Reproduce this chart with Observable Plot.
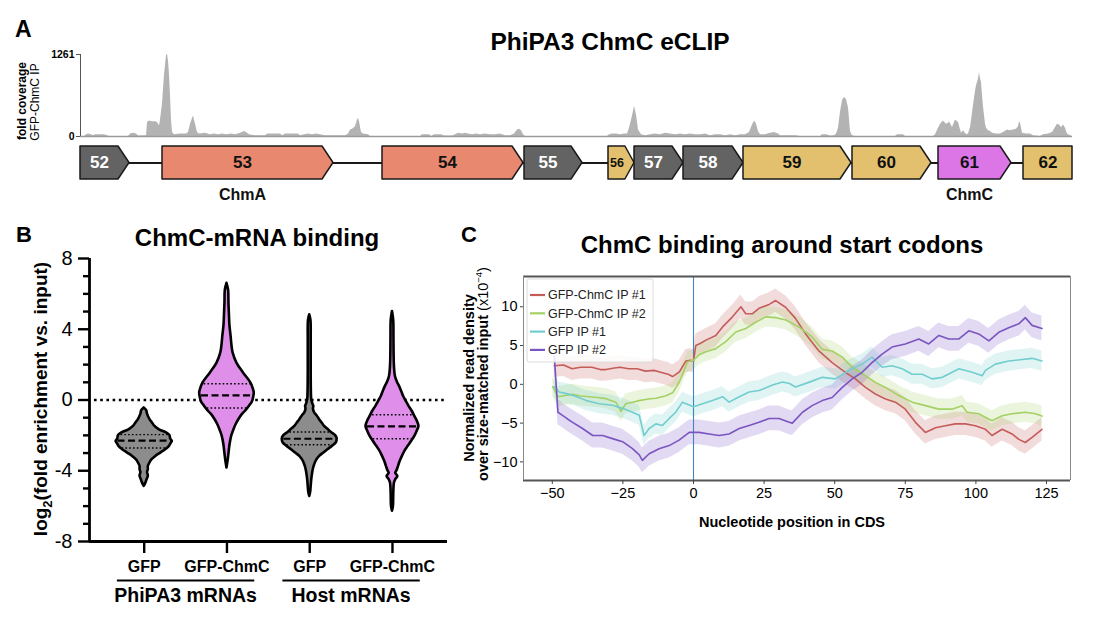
<!DOCTYPE html>
<html><head><meta charset="utf-8">
<script src="https://cdn.jsdelivr.net/npm/d3@7"></script>
<script src="https://cdn.jsdelivr.net/npm/@observablehq/plot@0.6"></script>
<style>
body{margin:0;background:#fff;}
#fig{position:relative;width:1102px;height:626px;overflow:hidden;background:#fff;}
</style></head><body><div id="fig"></div>
<script>
const FONT = '"Liberation Sans", Arial, Helvetica, sans-serif';

// ---------------- Panel A: coverage ----------------
const covPos = [0,4,6,8,11,13,15,20,24,27,29,48,50,53,56,58,66,67,69,72,75,77,79,80,82,84,86,87,88,89,90,91,92,94,100,106,108,110,112,113,115,117,119,125,130,134,138,142,146,151,155,160,164,166,169,175,185,187,200,202,205,218,220,224,228,232,236,240,245,265,268,270,272,275,277,278,279,281,283,288,290,340,342,349,351,354,361,364,372,375,378,382,385,388,392,396,400,405,410,415,420,425,430,434,437,439,441,443,445,527,529,532,536,540,544,547,549,552,554,556,558,561,565,570,575,580,585,590,595,600,605,610,615,620,625,630,635,640,645,650,655,660,665,669,672,674,676,678,680,685,690,694,698,700,710,715,720,740,742,746,750,754,756,758,760,762,764,766,768,770,772,775,815,817,823,825,853,855,858,860,863,866,868,869,872,875,878,880,881,883,886,888,890,892,893,895,896,898,899,900,901,902,903,905,906,908,910,912,916,920,923,927,930,933,936,938,939,940,942,946,950,953,960,963,968,972,975,977,979,981,983,985,987,990,992];
const covFold = [0,0,25,38,25,13,25,25,25,13,0,0,38,50,38,6,13,214,240,227,227,214,164,252,504,946,1248,1261,1160,946,630,252,63,25,38,38,63,189,277,315,189,63,38,50,25,38,25,38,25,38,25,50,76,63,25,13,13,38,38,13,38,38,13,25,38,25,38,25,13,13,38,101,113,151,252,277,227,63,38,25,0,0,25,25,0,25,25,6,6,25,50,38,50,38,25,38,25,38,25,25,38,13,13,38,101,113,88,25,0,0,25,38,38,25,38,38,126,315,467,328,101,25,13,25,38,25,50,38,25,38,25,38,25,25,38,13,25,25,13,25,13,25,25,63,177,240,189,76,25,25,50,63,38,13,13,13,0,0,25,25,6,13,38,126,378,555,605,567,441,76,13,0,0,25,25,0,0,25,126,189,240,189,202,227,139,252,214,101,50,88,25,38,139,353,479,694,782,883,984,883,832,631,454,189,126,88,76,50,38,38,63,101,88,101,113,151,227,202,50,38,38,13,0,25,38,63,139,189,177,139,177,126,38,13,0];
const covTicks = [0, 1261];

// genes
const geneNames = ["52","53","54","55","56","57","58","59","60","61","62"];
const geneStart = [0,82,302,444,528,554,603,663,772,858,943];
const geneEnd   = [49,253,443,502,554,603,663,771,851,931,992];
const geneClass = ["core","chmA","chmA","core","acc","core","core","acc","acc","chmC","acc"];
const geneTruncated = [false,false,false,false,false,false,false,false,false,false,true];
const geneAnnotGene = ["53","61"];
const geneAnnotText = ["ChmA","ChmC"];

// ---------------- Panel B: violins ----------------
const bCategories = ["GFP","GFP-ChmC","GFP","GFP-ChmC"];
const bGroups = ["PhiPA3 mRNAs","Host mRNAs"];
const bMajorTicks = [-8,-4,0,4,8];
const bMinorTicks = [-7,-6,-5,-3,-2,-1,1,2,3,5,6,7];
const v1Y = [-0.45,-0.6,-0.8,-1.11,-1.3,-1.49,-1.7,-1.86,-2.0,-2.2,-2.34,-2.5,-2.65,-2.81,-3.0,-3.19,-3.4,-3.56,-3.75,-3.94,-4.1,-4.3,-4.5,-4.7,-4.88];
const v1W = [0,0.03,0.04,0.07,0.1,0.13,0.19,0.27,0.31,0.32,0.34,0.32,0.3,0.26,0.2,0.14,0.09,0.07,0.05,0.05,0.04,0.05,0.035,0.02,0];
const v2Y = [6.6,6.2,5.5,4.8,4.2,3.6,3.1,2.65,2.09,1.53,0.96,0.6,0.4,0.1,-0.08,-0.3,-0.55,-0.8,-1.1,-1.4,-1.68,-2.0,-2.24,-2.6,-3.0,-3.4,-3.84];
const v2W = [0,0.02,0.024,0.03,0.036,0.05,0.06,0.075,0.12,0.2,0.29,0.32,0.33,0.32,0.31,0.28,0.24,0.19,0.145,0.11,0.085,0.06,0.048,0.035,0.025,0.015,0];
const v3Y = [4.82,4.5,3.5,2.5,1.5,0.5,0,-0.25,-0.36,-0.5,-0.73,-0.9,-1.11,-1.3,-1.49,-1.7,-1.86,-2.0,-2.15,-2.3,-2.43,-2.6,-2.81,-3.0,-3.19,-3.4,-3.66,-3.9,-4.12,-4.5,-4.88,-5.2,-5.45];
const v3W = [0,0.015,0.018,0.018,0.018,0.02,0.025,0.04,0.05,0.045,0.06,0.09,0.12,0.15,0.18,0.23,0.27,0.31,0.33,0.33,0.32,0.28,0.22,0.17,0.12,0.085,0.06,0.045,0.036,0.025,0.018,0.012,0];
const v4Y = [5.0,4.5,3.5,2.5,1.8,1.33,1.0,0.77,0.5,0.2,-0.1,-0.36,-0.65,-0.93,-1.2,-1.49,-1.75,-2.06,-2.35,-2.62,-2.9,-3.19,-3.45,-3.75,-4.0,-4.15,-4.32,-4.5,-4.69,-5.0,-5.5,-6.0,-6.29];
const v4W = [0,0.015,0.018,0.02,0.025,0.036,0.06,0.085,0.11,0.135,0.17,0.2,0.24,0.27,0.3,0.32,0.3,0.27,0.23,0.19,0.15,0.12,0.095,0.073,0.055,0.04,0.065,0.04,0.024,0.018,0.015,0.012,0];
const bQ1 = [-2.71,-0.45,-2.53,-2.19];
const bMedian = [-2.3,0.26,-2.19,-1.49];
const bQ3 = [-1.96,0.92,-1.81,-0.83];

// ---------------- Panel C: metagene ----------------
const cSeries = ["GFP-ChmC IP #1","GFP-ChmC IP #2","GFP IP #1","GFP IP #2"];
const cBand = [1.5,1.3,1.3,1.6];
const redX = [-49.3,-46,-43,-40,-36,-33,-31,-28,-26,-23,-20,-17,-14,-12,-9,-7.4,-5,-2.7,-1,0,0.8,2.5,4.4,7.9,10.3,13.8,16.8,18.5,20.9,23.2,26.8,29.1,32.7,36.1,39.7,44.4,49.1,53.8,57.3,60.9,64.4,68,71.5,75,78.6,82.1,85.7,89.2,92.7,96.3,99.8,103.4,105.7,109.3,112.8,115.2,117.5,119.9,123.4];
const redY = [2.4,2.5,2.0,2.2,2.2,1.9,1.9,2.1,2.2,2.0,2.0,1.7,1.8,1.6,1.3,1.0,1.6,3.0,3.1,3.0,5.0,5.3,5.7,6.3,7.4,8.7,10.0,9.1,9.1,9.8,10.3,10.8,9.9,8.5,6.5,4.3,2.8,1.55,0.7,-0.4,-1.25,-1.9,-2.3,-3.2,-4.9,-6.2,-5.6,-5.35,-5.1,-5.1,-5.35,-5.8,-6.6,-5.8,-6.4,-7.1,-7.5,-6.85,-5.8];
const greenX = [-49.9,-48,-45,-42.8,-40,-36.9,-34,-31,-27.5,-25.7,-24,-21.5,-19.2,-16,-13.3,-10,-7.4,-5,-2.1,0,2,4.4,7.9,11.4,15,18.5,22,25.6,29.1,32.7,37.3,42,45.6,49.1,52.7,56.2,60.9,64.4,68,72.7,77.4,82.1,86.9,91.5,95.1,96.9,101,105.7,109.3,112.8,117.5,121.1,123.4];
const greenY = [-0.3,-1.6,-1.4,-1.3,-1.5,-1.6,-1.7,-1.85,-2.3,-3.5,-2.5,-2.3,-2.1,-1.9,-1.8,-1.5,-1.1,0.3,2.9,3.1,3.8,4.2,4.6,5.5,6.75,7.2,8.0,8.7,8.6,8.3,7.4,6.1,4.5,4.3,3.5,2.2,1.1,0.25,-0.4,-1.45,-2.3,-2.75,-3.2,-3.2,-2.75,-3.6,-3.8,-4.7,-4.05,-3.8,-3.6,-3.8,-4.1];
const cyanX = [-49.3,-47.6,-45,-42.8,-40,-38,-35.5,-33.4,-31,-28.7,-25.1,-21.6,-19.2,-17.5,-15.7,-13.3,-11,-8.6,-6.3,-3.9,-2,0,3.2,6.7,10.3,12.6,16.2,19.7,23.2,28,31.5,34,36.1,40.8,45.6,50.3,55,59.7,63.2,66.8,70.3,73.9,77.4,81,84.5,88.1,91.6,94,98.7,102.2,103.4,106.9,111.6,116.4,119.9,123.4];
const cyanY = [-0.3,-1.0,-1.2,-1.4,-1.8,-2.1,-2.3,-2.5,-2.6,-2.7,-3.1,-3.6,-4.0,-6.6,-5.7,-5.1,-5.3,-4.4,-3.6,-2.3,-2.6,-2.9,-2.5,-2.1,-1.6,-2.3,-1.6,-1.0,-0.8,-0.1,0.3,0.1,-0.35,0.25,0.9,0.7,1.8,2.6,3.5,2.2,2.4,2.0,1.3,1.3,0.7,0.9,1.55,2.0,1.55,1.1,1.8,2.6,3.0,3.2,3.35,3.0];
const purpleX = [-49.3,-48,-46.4,-44.5,-42.8,-39.3,-35.7,-32.2,-28.7,-25.1,-21.6,-19.2,-18.1,-15.7,-12.2,-8.6,-5.1,-1.5,2,5.5,9.1,12.6,16.2,19.7,23.2,26.8,30.3,33.9,35,38.6,42,45.6,49.1,52.7,56.2,59.7,63.2,66.8,70.3,75,79.8,83.3,86.9,90.4,94,97.5,101,104.6,108.1,111.6,115.2,117.5,119.9,123.4];
const purpleY = [3.7,-3.6,-4.0,-4.5,-4.9,-5.7,-6.6,-6.6,-7.0,-7.4,-8.3,-9.1,-9.8,-8.95,-8.3,-7.9,-7.2,-6.2,-6.2,-6.4,-6.6,-6.4,-5.7,-5.3,-4.9,-4.4,-4.4,-4.9,-5.0,-3.6,-2.75,-2.1,-1.7,-0.4,0.7,1.55,2.8,3.9,4.8,5.2,5.85,5.2,6.3,5.85,5.85,6.9,6.5,5.6,6.7,7.3,7.8,8.6,7.6,7.2];
const cXTicks = [-50,-25,0,25,50,75,100,125];
const cYTicks = [-10,-5,0,5,10];

// ---------------- styles ----------------
const GENE_COLORS = {core:"#636363", chmA:"#e8896f", acc:"#e2c06e", chmC:"#dc76e6"};
const VIOLIN_COLORS = ["#8c8c8c","#df8fe9"];
const C_COLORS = ["#c45d59","#a4d064","#72cdcf","#7a55c2"];

const fig = document.getElementById("fig");
function place(el, left, top){ el.style.position="absolute"; el.style.left=left+"px"; el.style.top=top+"px"; fig.appendChild(el); return el; }

// ---- A: coverage
const covRows = covPos.map((p,i)=>({pos:p, fold:covFold[i]}));
const xDomA = [0, 992];
const covPlot = Plot.plot({
  width:1102, height:100, marginLeft:80, marginRight:30, marginTop:9, marginBottom:9,
  x:{domain:xDomA, axis:null}, y:{domain:[0,1261], axis:null},
  style:{fontFamily:FONT, background:"transparent", overflow:"visible"},
  marks:[
    Plot.areaY(covRows, {x:"pos", y:"fold", fill:"#b3b3b3", curve:"linear"}),
    Plot.ruleY([0], {stroke:"#9a9a9a", strokeWidth:1.5}),
    Plot.axisY({ticks:covTicks, tickSize:4, tickFormat:()=>"", label:null, stroke:"#555"}),
    Plot.ruleX([xDomA[0]], {y1:0, y2:1261, stroke:"#555", strokeWidth:1}),
    Plot.text(covTicks, {x:xDomA[0], y:d=>d, text:d=>String(d), dx:-6, textAnchor:"end", fontSize:10.5, fontWeight:"bold", fill:"#000"})
  ]
});
place(covPlot, 0, 45);

// ---- A: genes
const tipLen = (s,e) => Math.min(11, (e-s)*0.35);
const geneRows = [];
geneNames.forEach((g,i)=>{
  const s=geneStart[i], e=geneEnd[i];
  if (geneTruncated[i]) {
    geneRows.push({gene:g, cls:geneClass[i], pos:s, lo:-1, hi:1});
    geneRows.push({gene:g, cls:geneClass[i], pos:e, lo:-1, hi:1});
  } else {
    const t = e - tipLen(s,e);
    geneRows.push({gene:g, cls:geneClass[i], pos:s, lo:-1, hi:1});
    geneRows.push({gene:g, cls:geneClass[i], pos:t, lo:-1, hi:1});
    geneRows.push({gene:g, cls:geneClass[i], pos:e, lo:0, hi:0});
  }
});
const geneInfo = geneNames.map((g,i)=>({gene:g, cls:geneClass[i],
  mid: geneTruncated[i] ? (geneStart[i]+geneEnd[i])/2 : (geneStart[i] + geneEnd[i] - tipLen(geneStart[i],geneEnd[i]))/2,
  narrow: (geneEnd[i]-geneStart[i]) < 35}));
const annots = geneAnnotGene.map((g,i)=>({gene:g, text:geneAnnotText[i], mid:geneInfo.find(d=>d.gene===g).mid}));
const genePlot = Plot.plot({
  width:1102, height:70, marginLeft:80, marginRight:30, marginTop:6, marginBottom:31,
  x:{domain:xDomA, axis:null}, y:{domain:[-1,1], axis:null},
  color:{domain:Object.keys(GENE_COLORS), range:Object.values(GENE_COLORS)},
  style:{fontFamily:FONT, background:"transparent", overflow:"visible"},
  marks:[
    Plot.ruleY([0], {stroke:"#1a1a1a", strokeWidth:2}),
    Plot.areaY(geneRows, {x:"pos", y1:"lo", y2:"hi", z:"gene", fill:"cls", stroke:"#1a1a1a", strokeWidth:1.5, curve:"linear"}),
    Plot.text(geneInfo.filter(d=>!d.narrow), {x:"mid", y:0, text:"gene", fontSize:17, fontWeight:"bold", fill:d=>d.cls==="core"?"#fff":"#111"}),
    Plot.text(geneInfo.filter(d=>d.narrow), {x:"mid", y:0, text:"gene", fontSize:12.5, fontWeight:"bold", fill:"#111"}),
    Plot.text(annots, {x:"mid", y:-1, text:"text", dy:15, fontSize:16, fontWeight:"bold", fill:"#111"})
  ]
});
place(genePlot, 0, 140);

// ---- B: violins
const bProfiles = [[v1Y,v1W],[v2Y,v2W],[v3Y,v3W],[v4Y,v4W]];
const bRows = [];
bProfiles.forEach(([ys,ws],i)=> ys.forEach((y,j)=> bRows.push({group:i, cat:i+1, kind:bCategories[i], y, hw:ws[j]})));
function hwAt(ys, ws, q){
  for (let j=0;j<ys.length-1;j++){
    const a=ys[j], b=ys[j+1];
    if ((q<=a && q>=b)){ const t=(a-q)/(a-b); return ws[j]+(ws[j+1]-ws[j])*t; }
  }
  return 0;
}
const qRows = [];
bProfiles.forEach(([ys,ws],i)=>{
  [["q",bQ1[i]],["m",bMedian[i]],["q",bQ3[i]]].forEach(([k,v])=>{
    const h = hwAt(ys,ws,v) - 0.012;
    qRows.push({kind:k, y:v, x1:i+1-h, x2:i+1+h});
  });
});
const xDomB = [0.339, 4.665];
const bPlot = Plot.plot({
  width:460, height:370, marginLeft:89, marginRight:13, marginTop:8, marginBottom:79,
  x:{domain:xDomB, axis:null}, y:{domain:[-8,8], axis:null},
  color:{domain:["GFP","GFP-ChmC"], range:VIOLIN_COLORS},
  style:{fontFamily:FONT, background:"transparent", overflow:"visible"},
  marks:[
    Plot.ruleY([0], {stroke:"#000", strokeWidth:2.6, strokeDasharray:"2.6,3.6", insetLeft:5}),
    Plot.areaX(bRows, {y:"y", x1:d=>d.cat-d.hw, x2:d=>d.cat+d.hw, z:"group", fill:"kind", stroke:"#000", strokeWidth:2.6, strokeLinejoin:"round", curve:"catmull-rom"}),
    Plot.link(qRows.filter(d=>d.kind==="q"), {x1:"x1", x2:"x2", y1:"y", y2:"y", stroke:"#000", strokeWidth:1.4, strokeDasharray:"1.6,2.2"}),
    Plot.link(qRows.filter(d=>d.kind==="m"), {x1:"x1", x2:"x2", y1:"y", y2:"y", stroke:"#000", strokeWidth:2.2, strokeDasharray:"7,3.5"}),
    Plot.axisY({ticks:bMinorTicks, tickSize:6, tickFormat:()=>"", label:null, stroke:"#000", strokeWidth:2.4}),
    Plot.axisY({ticks:bMajorTicks, tickSize:11, tickFormat:()=>"", label:null, stroke:"#000", strokeWidth:2.4}),
    Plot.text(bMajorTicks, {x:xDomB[0], y:d=>d, text:d=>String(d), dx:-17, textAnchor:"end", fontSize:20, fill:"#000"}),
    Plot.ruleX([xDomB[0]], {y1:-8, y2:8, stroke:"#000", strokeWidth:2.8}),
    Plot.ruleY([-8], {x1:xDomB[0], x2:xDomB[1], stroke:"#000", strokeWidth:2.8}),
    Plot.axisX({ticks:[1,2,3,4], tickSize:12, tickFormat:()=>"", label:null, stroke:"#000", strokeWidth:2.4}),
    Plot.text(bCategories, {x:(d,i)=>i+1, y:-8, text:d=>d, dy:30, lineAnchor:"bottom", fontSize:16, fontWeight:"bold", fill:"#000"}),
    Plot.link(bGroups, {x1:(d,i)=>2*i+1-0.33, x2:(d,i)=>2*i+2+0.33, y1:-8, y2:-8, dy:39, stroke:"#000", strokeWidth:2}),
    Plot.text(bGroups, {x:(d,i)=>2*i+1.5, y:-8, text:d=>d, dy:60.5, lineAnchor:"bottom", fontSize:19.5, fontWeight:"bold", fill:"#000"})
  ]
});
place(bPlot, 0, 250);

// ---- C: metagene
const cXs = [redX, greenX, cyanX, purpleX];
const cYs = [redY, greenY, cyanY, purpleY];
const cRows = [];
cSeries.forEach((s,i)=> cXs[i].forEach((x,j)=> cRows.push({series:s, x, y:cYs[i][j], e:cBand[i]})));
const xDomC = [-60.2, 133.5], yDomC = [-12.4, 13.9];
const cPlot = Plot.plot({
  width:620, height:270, marginLeft:63, marginRight:10, marginTop:6, marginBottom:60,
  x:{domain:xDomC, label:null}, y:{domain:yDomC, label:null},
  color:{domain:cSeries, range:C_COLORS},
  style:{fontFamily:FONT, background:"transparent", overflow:"visible"},
  marks:[
    Plot.areaY(cRows, {x:"x", y1:d=>d.y-d.e, y2:d=>d.y+d.e, z:"series", fill:"series", fillOpacity:0.22}),
    Plot.ruleX([0], {stroke:"#3d85c6", strokeWidth:1.1}),
    Plot.line(cRows, {x:"x", y:"y", z:"series", stroke:"series", strokeWidth:1.6}),
    Plot.ruleY(yDomC, {stroke:"#555", strokeWidth:2}),
    Plot.ruleX(xDomC, {stroke:"#8a8a8a", strokeWidth:1}),
    Plot.axisX({ticks:cXTicks, tickSize:4, tickPadding:3, fontSize:14.5, label:null, stroke:"#444"}),
    Plot.axisY({ticks:cYTicks, tickSize:3, tickPadding:3, fontSize:14.5, label:null, stroke:"#444"})
  ]
});
place(cPlot, 460, 270);

// ---- overlay text & legend
const ov = d3.create("svg").attr("width",1102).attr("height",626)
  .style("position","absolute").style("left","0px").style("top","0px")
  .style("font-family",FONT).style("pointer-events","none");
function txt(x,y,s,size,weight="bold",anchor="start"){
  return ov.append("text").attr("x",x).attr("y",y).attr("font-size",size).attr("font-weight",weight).attr("text-anchor",anchor).attr("fill","#000").text(s);
}
function rot(x,y){ return ov.append("g").attr("transform",`translate(${x},${y}) rotate(-90)`); }
txt(15,37,"A",23);
txt(610,50,"PhiPA3 ChmC eCLIP",24.5,"bold","middle");
rot(26,101).append("text").attr("text-anchor","middle").attr("font-size",12).attr("font-weight","bold").text("fold coverage");
rot(39,102).append("text").attr("text-anchor","middle").attr("font-size",12).attr("font-weight","normal").text("GFP-ChmC IP");

txt(16,242,"B",22);
txt(257,246,"ChmC-mRNA binding",24,"bold","middle");
{
  const t = rot(47,399).append("text").attr("text-anchor","middle").attr("font-size",19).attr("font-weight","bold");
  t.append("tspan").text("log");
  t.append("tspan").attr("dy",5).attr("font-size",13).text("2");
  t.append("tspan").attr("dy",-5).text("(fold enrichment vs. input)");
}

txt(461,242,"C",22);
txt(782,253,"ChmC binding around start codons",24,"bold","middle");
rot(474,378).append("text").attr("text-anchor","middle").attr("font-size",14.5).attr("font-weight","bold").text("Normalized read density");
{
  const t = rot(488,374).append("text").attr("text-anchor","middle").attr("font-size",14.5).attr("font-weight","bold");
  t.append("tspan").text("over size-matched input ");
  t.append("tspan").attr("font-weight","normal").text("(x10");
  t.append("tspan").attr("font-weight","normal").attr("font-size",9.5).attr("dy",-6).text("−4");
  t.append("tspan").attr("font-weight","normal").attr("dy",6).text(")");
}
txt(792,527,"Nucleotide position in CDS",14.5,"bold","middle");

// legend
const lg = ov.append("g");
lg.append("rect").attr("x",527).attr("y",279).attr("width",126).attr("height",83).attr("rx",2).attr("fill","#fff").attr("fill-opacity",0.85).attr("stroke","#dcdcdc");
cSeries.forEach((s,i)=>{
  const y = 295 + i*18.3;
  lg.append("line").attr("x1",530).attr("x2",545).attr("y1",y).attr("y2",y).attr("stroke",C_COLORS[i]).attr("stroke-width",2.2);
  lg.append("text").attr("x",548).attr("y",y).attr("dy","0.35em").attr("font-size",12.5).attr("fill","#222").text(s);
});
fig.appendChild(ov.node());
</script></body></html>
